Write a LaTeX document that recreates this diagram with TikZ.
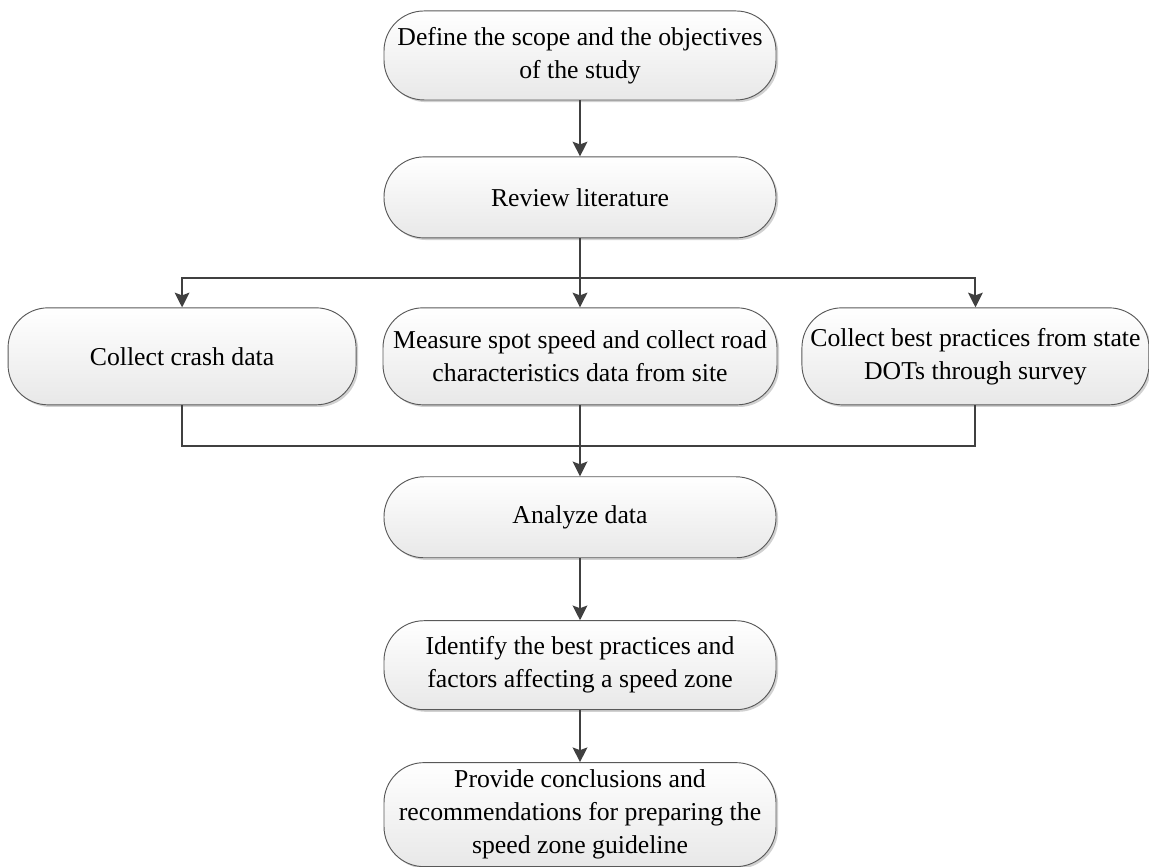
\documentclass[tikz,border=0pt]{standalone}
\usepackage{fontspec}
\setmainfont{Liberation Serif}
\usetikzlibrary{positioning,arrows.meta,shadows}

\tikzset{
  stage/.style={draw=black!65, line width=0.7pt, rounded corners=30pt,
    top color=white, bottom color=black!9, align=center, inner sep=2pt,
    font=\fontsize{19.3}{24.75}\selectfont,
    drop shadow={shadow xshift=1.6pt, shadow yshift=-1.6pt, opacity=0.3, fill=black!60}},
  flow/.style={draw=black!75, line width=1.5pt, -{Stealth[length=11pt,width=11pt,inset=2pt]}},
  link/.style={draw=black!75, line width=1.5pt}
}

\begin{document}
\begin{tikzpicture}
  \useasboundingbox (0,0) rectangle (861.75pt,-650.25pt);

  %Define nodes
  \node[stage, minimum width=294pt, minimum height=66.75pt] (scope) at (435pt,-41.6pt)
    {Define the scope and the objectives\\of the study};
  \node[stage, minimum width=294pt, minimum height=60.75pt, below=42pt of scope] (review)
    {Review literature};
  \node[stage, minimum width=295.5pt, minimum height=72.75pt, below=51.75pt of review] (measure)
    {Measure spot speed and collect road\\characteristics data from site};
  \node[stage, minimum width=261pt, minimum height=72.75pt, left=19.5pt of measure] (crash)
    {Collect crash data};
  \node[stage, minimum width=260.25pt, minimum height=72.75pt, right=18pt of measure] (survey)
    {Collect best practices from state\\DOTs through survey};
  \node[stage, minimum width=294pt, minimum height=60.75pt, below=53.25pt of measure] (analyze)
    {Analyze data};
  \node[stage, minimum width=294pt, minimum height=66.75pt, below=46.5pt of analyze] (identify)
    {Identify the best practices and\\factors affecting a speed zone};
  \node[stage, minimum width=294pt, minimum height=78pt, below=39pt of identify] (provide)
    {Provide conclusions and\\recommendations for preparing the\\speed zone guideline};

  \coordinate[below=30pt of review.south] (split);
  \coordinate[above=22.5pt of analyze.north] (merge);

  % Connect the nodes
  \draw[flow] (scope) -- (review);
  \draw[flow] (review) -- (measure);
  \draw[flow] (split) -| (crash);
  \draw[flow] (split) -| (survey);
  \draw[link] (crash) |- (merge);
  \draw[link] (survey) |- (merge);
  \draw[flow] (measure) -- (analyze);
  \draw[flow] (analyze) -- (identify);
  \draw[flow] (identify) -- (provide);

\end{tikzpicture}
\end{document}
